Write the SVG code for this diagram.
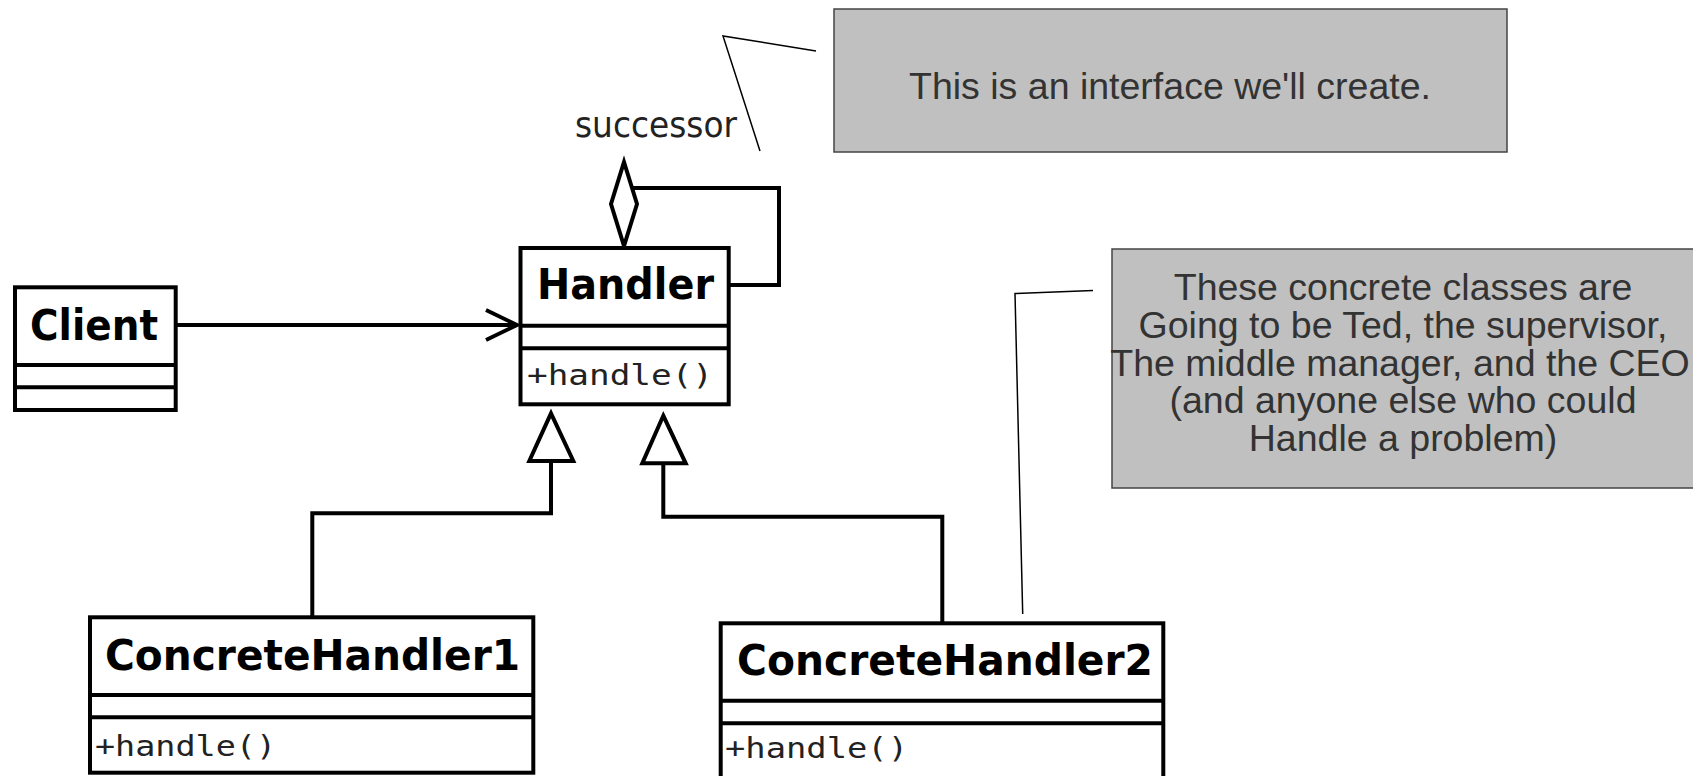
<svg xmlns="http://www.w3.org/2000/svg" width="1693" height="776" viewBox="0 0 1693 776">
<style>
.box{fill:#fff;stroke:#000;stroke-width:4}
.sep{stroke:#000;stroke-width:4}
.edge{fill:none;stroke:#000;stroke-width:4;stroke-linejoin:miter}
.head{fill:#fff;stroke:#000;stroke-width:4;stroke-linejoin:miter}
.lead{fill:none;stroke:#000;stroke-width:1.5}
.note{fill:#c0c0c0;stroke:#444;stroke-width:1.5}
.name{font-family:"DejaVu Sans",sans-serif;font-weight:bold;font-size:43px;fill:#000}
.op{font-family:"DejaVu Sans Mono",monospace;font-size:28px;fill:#222}
.lbl{font-family:"DejaVu Sans",sans-serif;font-size:35px;fill:#222}
.nt{font-family:"Liberation Sans",Arial,sans-serif;font-size:37.5px;fill:#333;text-anchor:middle}
</style>
<rect width="1693" height="776" fill="#fff"/>
<g id="note-interface">
<rect class="note" x="834" y="9" width="673" height="143"/>
<text class="nt" x="1170" y="99">This is an interface we'll create.</text>
</g>
<g id="note-concrete">
<rect class="note" x="1112" y="249" width="600" height="239"/>
<text class="nt" x="1403" y="299.5">These concrete classes are</text>
<text class="nt" x="1403" y="337.5">Going to be Ted, the supervisor,</text>
<text class="nt" x="1400" y="375.5">The middle manager, and the CEO</text>
<text class="nt" x="1403" y="413">(and anyone else who could</text>
<text class="nt" x="1403" y="451">Handle a problem)</text>
</g>
<g id="connectors">
<polyline class="lead" points="816,51 723,36 760,151"/>
<polyline class="lead" points="1093,290.5 1015,293.5 1022.7,614"/>
<line class="edge" x1="177" y1="325" x2="516" y2="325"/>
<polyline class="edge" points="486,310 517,325 486,340"/>
<path class="edge" d="M729,285 H779 V188 H632"/>
<polygon class="head" points="624,162 637,204 624,246 611,204"/>
<path class="edge" d="M551,461 V513.3 H312.3 V617"/>
<polygon class="head" points="551,413.3 573.3,461 529.3,461"/>
<path class="edge" d="M663.3,463.3 V516.7 H942.3 V623"/>
<polygon class="head" points="663.3,415.7 685.7,463.3 642.3,463.3"/>
<text class="lbl" x="575" y="137" textLength="162" lengthAdjust="spacingAndGlyphs">successor</text>
</g>
<g id="client">
<rect class="box" x="15" y="287.3" width="160.7" height="122.7"/>
<line class="sep" x1="15" y1="365" x2="175.7" y2="365"/>
<line class="sep" x1="15" y1="387.3" x2="175.7" y2="387.3"/>
<text class="name" x="30" y="340" textLength="128" lengthAdjust="spacingAndGlyphs">Client</text>
</g>
<g id="handler">
<rect class="box" x="520.5" y="248" width="208.2" height="156.3"/>
<line class="sep" x1="520.5" y1="325.7" x2="728.7" y2="325.7"/>
<line class="sep" x1="520.5" y1="348.3" x2="728.7" y2="348.3"/>
<text class="name" x="537" y="299.3" textLength="177" lengthAdjust="spacingAndGlyphs">Handler</text>
<text class="op" x="527" y="385" textLength="186" lengthAdjust="spacingAndGlyphs">+handle()</text>
</g>
<g id="concrete-handler-1">
<rect class="box" x="90" y="617.3" width="443.3" height="155.4"/>
<line class="sep" x1="90" y1="695" x2="533.3" y2="695"/>
<line class="sep" x1="90" y1="717.3" x2="533.3" y2="717.3"/>
<text class="name" x="105" y="670" textLength="415" lengthAdjust="spacingAndGlyphs">ConcreteHandler1</text>
<text class="op" x="95" y="756" textLength="181" lengthAdjust="spacingAndGlyphs">+handle()</text>
</g>
<g id="concrete-handler-2">
<rect class="box" x="720.7" y="623.3" width="442.6" height="170"/>
<line class="sep" x1="720.7" y1="700.7" x2="1163.3" y2="700.7"/>
<line class="sep" x1="720.7" y1="723.3" x2="1163.3" y2="723.3"/>
<text class="name" x="737" y="675" textLength="416" lengthAdjust="spacingAndGlyphs">ConcreteHandler2</text>
<text class="op" x="725" y="757.5" textLength="183" lengthAdjust="spacingAndGlyphs">+handle()</text>
</g>
</svg>
